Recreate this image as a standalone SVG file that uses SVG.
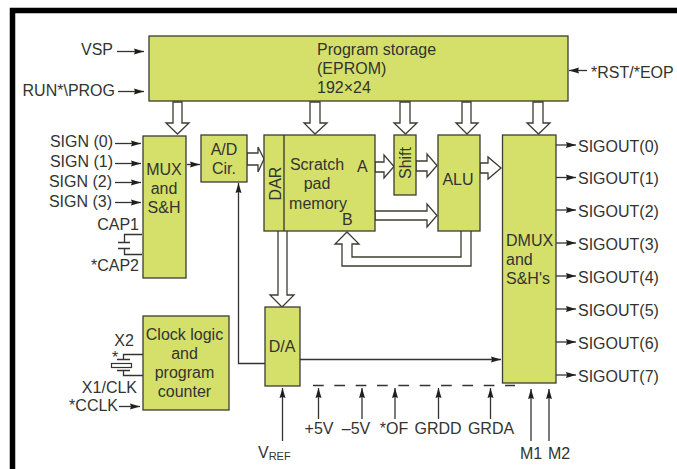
<svg xmlns="http://www.w3.org/2000/svg" width="677" height="469" viewBox="0 0 677 469">
<style>
text{font-family:"Liberation Sans",Arial,sans-serif;font-size:16px;fill:#333330}
.m{text-anchor:middle}.e{text-anchor:end}
.b{fill:#d5e06b;stroke:#3c3c32;stroke-width:1.3}
.l{fill:none;stroke:#333330;stroke-width:1.3}
.a{marker-end:url(#ah)}
.h{fill:#fff;stroke:#3c3c32;stroke-width:1.3;stroke-linejoin:miter}
</style>
<defs><marker id="ah" markerUnits="userSpaceOnUse" markerWidth="11" markerHeight="7" refX="10" refY="3.500" orient="auto"><path d="M0 .5L10 3.500L0 6.500L1 3.500Z" fill="#1f1f1c"/></marker></defs>
<rect width="677" height="469" fill="#fff"/>
<path id="frame" d="M12.500 469V10.500H677" fill="none" stroke="#000" stroke-width="5.500"/>
<g id="connectors">
<path class="l a" d="M117 51.500H144"/><path class="l a" d="M118 91.500H144"/>
<path class="l a" d="M115 143.500H141"/><path class="l a" d="M115 163.500H141"/><path class="l a" d="M115 182.500H141"/><path class="l a" d="M115 202.500H141"/>
<path class="l a" d="M187 164.500H200"/>
<path class="l a" d="M587 70.500H569"/>
<path class="l a" d="M554 145H576"/><path class="l a" d="M556 177.500H576"/><path class="l a" d="M554 210H576"/><path class="l a" d="M556 243H576"/><path class="l a" d="M553 276H576"/><path class="l a" d="M554 309H576"/><path class="l a" d="M556 342H576"/><path class="l a" d="M554 375H576"/>
<path class="l a" d="M119 406.500H140"/>
<path class="l a" d="M265 363.500H238.500V183"/>
<path class="l a" d="M300 359.500H501"/>
<path class="l" d="M313 385.500H515" stroke-dasharray="10.700 10.640"/>
<path class="l a" d="M282.500 441V388"/>
<path class="l a" d="M318.500 419V388"/><path class="l a" d="M362 419V388"/><path class="l a" d="M395 419V388"/><path class="l a" d="M438.500 419V388"/><path class="l a" d="M490.500 419V388"/>
<path class="l a" d="M531 441V389"/><path class="l a" d="M549 441V389"/>
<path class="l" d="M142 234.500H124.500V242.500M118 242.500H130M118 248.500H130M124.500 248.500V254.500H142"/>
<path class="l" d="M143 354.500H123.500V359.500M117 359.500H130M117 370.500H130M123.500 370.500V375.500H143"/>
<rect x="111.500" y="363.500" width="20" height="4" fill="none" stroke="#333330" stroke-width="1.200"/>
<path class="h" d="M173 102H182V123H189L177.500 134L166 123H173Z"/>
<path class="h" d="M310 102H320V123H327L315 134L304 123H310Z"/>
<path class="h" d="M400 102H410V123H417L405.500 134L394 123H400Z"/>
<path class="h" d="M462 102H471V123H478L467 134L456 123H462Z"/>
<path class="h" d="M533 102H543V123H550L538.500 134L527 123H533Z"/>
<path class="h" d="M247 153H258V147L264 159L258 172V165H247Z"/>
<path class="h" d="M375 162H384V155L394 166.500L384 178V172H375Z"/>
<path class="h" d="M416 161H427V154L437 165.500L427 177V171H416Z"/>
<path class="h" d="M480 163H488V157L501 168L488 179V173H480Z"/>
<path class="h" d="M375 211H427V204L437 215.500L427 227V220H375Z"/>
<path class="h" d="M461 231V257H352V244H359L347 232L335 244H342V266H471V231"/>
<path class="h" d="M278 231V295H270L282 307L294 295H287V231"/>
</g>
<g id="program"><rect class="b" x="149" y="36" width="419" height="65"/><text x="317" y="55">Program storage</text><text x="317" y="74">(EPROM)</text><text x="317" y="93">192×24</text></g>
<g id="mux"><rect class="b" x="143" y="136" width="43" height="142"/><text class="m" x="164" y="175">MUX</text><text class="m" x="164" y="194">and</text><text class="m" x="164" y="213">S&amp;H</text></g>
<g id="ad"><rect class="b" x="201" y="135" width="46" height="47"/><text class="m" x="224" y="155">A/D</text><text class="m" x="224" y="174">Cir.</text></g>
<g id="scratch"><rect class="b" x="264" y="135" width="111" height="96"/><path class="l" d="M284 135V231"/><text class="m" transform="translate(281 183.500) rotate(-90)">DAR</text><text class="m" x="317" y="170">Scratch</text><text class="m" x="317" y="189">pad</text><text class="m" x="318" y="209">memory</text><text x="357" y="172">A</text><text x="342" y="225">B</text></g>
<g id="shift"><rect class="b" x="394" y="135" width="22" height="60"/><text class="m" transform="translate(411 163) rotate(-90)">Shift</text></g>
<g id="alu"><rect class="b" x="438" y="135" width="42" height="96"/><text class="m" x="458" y="185">ALU</text></g>
<g id="dmux"><rect class="b" x="502.500" y="135" width="53.500" height="248"/><text x="506" y="246">DMUX</text><text x="506" y="265">and</text><text x="506" y="284">S&amp;H's</text></g>
<g id="clock"><rect class="b" x="143" y="316" width="86" height="94"/><text class="m" x="184.500" y="340">Clock logic</text><text class="m" x="184.500" y="359">and</text><text class="m" x="184.500" y="378">program</text><text class="m" x="184.500" y="397">counter</text></g>
<g id="da"><rect class="b" x="265" y="307" width="35" height="79"/><text class="m" x="282" y="352">D/A</text></g>
<g id="labels">
<text class="e" x="113" y="55">VSP</text><text class="e" x="115" y="96">RUN*\PROG</text>
<text class="e" x="113" y="147">SIGN (0)</text><text class="e" x="113" y="167">SIGN (1)</text><text class="e" x="112" y="187">SIGN (2)</text><text class="e" x="112" y="207">SIGN (3)</text>
<text class="e" x="139" y="230">CAP1</text><text class="e" x="139" y="271">*CAP2</text>
<text class="m" x="124" y="346">X2</text><text x="112" y="363">*</text><text class="e" x="137" y="393">X1/CLK</text><text class="e" x="118" y="411">*CCLK</text>
<text x="591" y="78">*RST/*EOP</text>
<text x="578" y="151.700">SIGOUT(0)</text><text x="578" y="184">SIGOUT(1)</text><text x="578" y="217">SIGOUT(2)</text><text x="578" y="250">SIGOUT(3)</text><text x="578" y="283">SIGOUT(4)</text><text x="578" y="316">SIGOUT(5)</text><text x="578" y="349">SIGOUT(6)</text><text x="578" y="382">SIGOUT(7)</text>
<text x="258" y="458">V<tspan font-size="11" dy="2">REF</tspan></text>
<text class="m" x="319" y="434">+5V</text><text class="m" x="356" y="434">–5V</text><text class="m" x="394" y="434">*OF</text><text class="m" x="438" y="434">GRDD</text><text class="m" x="491" y="434">GRDA</text>
<text class="m" x="531" y="459">M1</text><text class="m" x="559" y="459">M2</text>
</g>
</svg>
